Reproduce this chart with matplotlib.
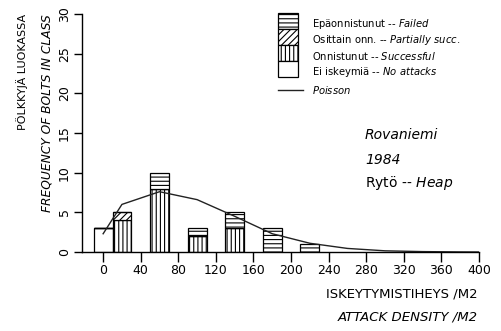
import numpy as np
import matplotlib
matplotlib.use("Agg")
import matplotlib.pyplot as plt
from matplotlib.patches import Rectangle
from matplotlib.lines import Line2D

plt.rcParams['font.family'] = ['DejaVu Sans']
plt.rcParams['hatch.linewidth'] = 0.8

# luokkien keskikohdat (iskeytymistiheys /m2)
centers = [0, 20, 60, 100, 140, 180, 220]
no_attacks = [3, 0, 0, 0, 0, 0, 0]
successful = [0, 4, 8, 2, 3, 0, 0]
partial = [0, 1, 0, 0, 0, 0, 0]
failed = [0, 0, 2, 1, 2, 3, 1]

# Poisson-sovitus
poisson_x = [0, 20, 60, 100, 140, 180, 220, 260, 300, 340, 380, 400]
poisson_y = [2.3, 6.0, 7.6, 6.6, 4.5, 2.3, 1.1, 0.45, 0.15, 0.05, 0.01, 0.0]

x_ticks = [0, 40, 80, 120, 160, 200, 240, 280, 320, 360, 400]
y_ticks = [0, 5, 10, 15, 20, 25, 30]

legend_labels = [
    'Epäonnistunut -- $\\mathit{Failed}$',
    'Osittain onn. -- $\\mathit{Partially\\ succ.}$',
    'Onnistunut -- $\\mathit{Successful}$',
    'Ei iskeymiä -- $\\mathit{No\\ attacks}$',
]
legend_hatches = ['----', '/////', '||||', None]

W, H = 501, 331
fig = plt.figure(figsize=(W / 100, H / 100), dpi=100)
ax = fig.add_axes([82 / W, 1 - 252 / H, (479 - 82) / W, (252 - 14) / H])


def fx(px):
    return px / W


def fy(py):
    return 1 - py / H


bar_kw = dict(width=20, edgecolor='black', linewidth=0.9, facecolor='white')
b0 = np.array(no_attacks)
b1 = b0 + np.array(successful)
b2 = b1 + np.array(partial)
ax.bar(centers, no_attacks, **bar_kw)
ax.bar(centers, successful, bottom=b0, hatch='||||', **bar_kw)
ax.bar(centers, partial, bottom=b1, hatch='/////', **bar_kw)
ax.bar(centers, failed, bottom=b2, hatch='----', **bar_kw)

ax.plot(poisson_x, poisson_y, color='#222222', linewidth=1.0)

ax.set_xlim(-22.5, 400)
ax.set_ylim(0, 30)
ax.set_xticks(x_ticks)
ax.set_yticks(y_ticks)
ax.spines['top'].set_visible(False)
ax.spines['right'].set_visible(False)
for s in ['left', 'bottom']:
    ax.spines[s].set_linewidth(1.0)
ax.tick_params(axis='x', direction='out', length=7, width=1.0, labelsize=9, pad=2)
ax.tick_params(axis='y', direction='out', length=6, width=1.0, labelsize=9, pad=2,
               labelrotation=90)
for lbl in ax.get_yticklabels():
    lbl.set_va('center')

# selite (piirretty käsin, pinotut laatikot)
box_top = 13
box_h = 16
for i, (lab, hat) in enumerate(zip(legend_labels, legend_hatches)):
    top = box_top + i * box_h
    fig.add_artist(Rectangle((fx(278), fy(top + box_h)), fx(20), box_h / H,
                             transform=fig.transFigure, facecolor='white',
                             edgecolor='black', linewidth=0.9, hatch=hat))
    fig.text(fx(312), fy(top + box_h / 2 + 3), lab, fontsize=7.2, va='center')
fig.add_artist(Line2D([fx(278), fx(303)], [fy(90), fy(90)], transform=fig.transFigure,
                      color='#222222', linewidth=1.0))
fig.text(fx(312), fy(90), '$\\mathit{Poisson}$', fontsize=7.2, va='center')

# paikka ja vuosi
fig.text(fx(365), fy(135), 'Rovaniemi', fontsize=10, style='italic', va='center')
fig.text(fx(365), fy(160), '1984', fontsize=10, style='italic', va='center')
fig.text(fx(365), fy(183), 'Rytö -- $\\mathit{Heap}$', fontsize=10, va='center')

# akselien nimet
fig.text(fx(478), fy(294), 'ISKEYTYMISTIHEYS /M2', fontsize=9.5, ha='right', va='center')
fig.text(fx(478), fy(317), 'ATTACK DENSITY /M2', fontsize=9.5, ha='right', va='center',
         style='italic')
fig.text(fx(22), fy(14), 'PÖLKKYJÄ LUOKASSA', fontsize=8, rotation=90,
         ha='center', va='top')
fig.text(fx(47), fy(14), 'FREQUENCY OF BOLTS IN CLASS', fontsize=8.8, rotation=90,
         ha='center', va='top', style='italic')

fig.savefig('out.png', dpi=100, facecolor='white')
